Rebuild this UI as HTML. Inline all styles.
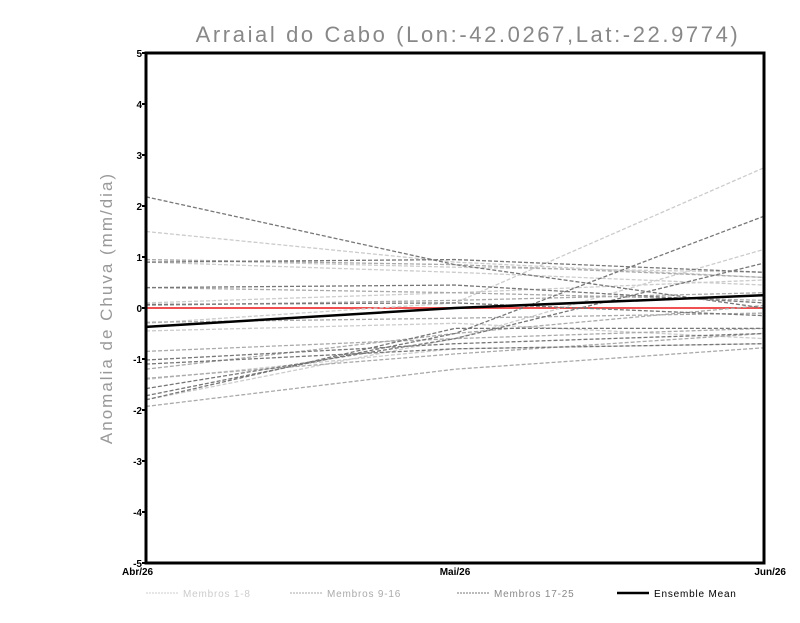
<!DOCTYPE html>
<html><head><meta charset="utf-8"><style>
body{margin:0;background:#fff;}
svg{font-family:"Liberation Sans",sans-serif;}
</style></head><body>
<svg id="chart" width="800" height="618">
<text x="468" y="42" text-anchor="middle" font-size="22" letter-spacing="2.6" fill="#888">Arraial do Cabo (Lon:-42.0267,Lat:-22.9774)</text>
<text transform="translate(112,308) rotate(-90)" text-anchor="middle" font-size="17" letter-spacing="2" fill="#999">Anomalia de Chuva (mm/dia)</text>
<g id="grid"></g>
<g id="series"></g>
<rect x="146" y="53" width="618" height="510" fill="none" stroke="#000" stroke-width="3"/>
<g id="ticks"></g>
<g id="legend" font-size="10" letter-spacing="0.8">
<line x1="146" y1="593" x2="178" y2="593" stroke="#ccc" stroke-dasharray="2,1"/>
<text x="183" y="597" fill="#ccc">Membros 1-8</text>
<line x1="290" y1="593" x2="322" y2="593" stroke="#aaa" stroke-dasharray="2,1"/>
<text x="327" y="597" fill="#aaa">Membros 9-16</text>
<line x1="457" y1="593" x2="489" y2="593" stroke="#777" stroke-dasharray="2,1"/>
<text x="494" y="597" fill="#888">Membros 17-25</text>
<line x1="617" y1="593" x2="649" y2="593" stroke="#000" stroke-width="2.5"/>
<text x="654" y="597" fill="#000">Ensemble Mean</text>
</g>
</svg>
<script>
const categories=["Abr/26","Mai/26","Jun/26"];
const yTicks=[-5,-4,-3,-2,-1,0,1,2,3,4,5];
const m1_8=[[1.5,0.9,0.6],[-0.3,0.1,2.75],[0.95,0.8,0.7],[-1.8,-0.6,1.15],[-0.45,-0.3,-0.6],[0.9,0.7,0.45],[-1.4,-0.8,-0.7],[0.1,0.3,0.55]];
const m9_16=[[0.95,0.85,0.6],[-0.85,-0.6,-0.4],[-1.93,-1.2,-0.78],[0.4,0.3,0.15],[-1.2,-0.5,0.05],[-0.28,-0.2,-0.1],[-1.38,-0.9,-0.5],[0.05,0.15,0.3]];
const m17_25=[[2.18,0.85,0.0],[-1.72,-0.5,1.8],[0.4,0.45,0.1],[-1.02,-0.7,-0.5],[-1.58,-0.6,0.88],[-1.1,-0.8,-0.7],[0.07,0.1,-0.15],[0.9,0.95,0.7],[-1.8,-0.4,-0.4]];
const meanVals=[-0.37,0.0,0.25];
const X0=146,X1=764,Y0=563,Y1=53;
const xs=i=>X0+(X1-X0)*i/(categories.length-1);
const ys=v=>Y0+(v+5)*(Y1-Y0)/10;
const NS="http://www.w3.org/2000/svg";
const S=document.getElementById('series'),T=document.getElementById('ticks');
function mk(tag,attrs,parent){const e=document.createElementNS(NS,tag);for(const k in attrs)e.setAttribute(k,attrs[k]);parent.appendChild(e);return e;}
function pts(vals){return vals.map((v,i)=>xs(i)+','+ys(v)).join(' ');}
const zl=mk('line',{x1:X0,x2:X1,y1:ys(0),y2:ys(0),stroke:'#f05050','stroke-width':2},S);


[[m1_8,'#ccc','member-1-8'],[m9_16,'#aaa','member-9-16'],[m17_25,'#777','member-17-25']].forEach(([grp,col,nm])=>{
 grp.forEach((vals,j)=>{
  const p=mk('polyline',{points:pts(vals),fill:'none',stroke:col,'stroke-width':1.3,'stroke-dasharray':'4,2'},S);
  
  
 });
});
const ml=mk('polyline',{points:pts(meanVals),fill:'none',stroke:'#000','stroke-width':2.5},S);


yTicks.forEach(v=>{
 const l=mk('line',{x1:X0-4,x2:X0,y1:ys(v),y2:ys(v),stroke:'#000','stroke-width':2},T);
 
 
 const t=mk('text',{x:X0-4,y:ys(v)+4,'text-anchor':'end','font-size':10,'font-weight':'bold'},T);
 t.textContent=v;
 
 
});
categories.forEach((c,i)=>{
 const last=i==categories.length-1;
 const t=mk('text',{x:i==0?X0-24:(last?X1+22:xs(i)),y:Y0+12,'text-anchor':i==0?'start':(last?'end':'middle'),'font-size':10,'font-weight':'bold'},T);
 t.textContent=c;
 
 
});
</script>
</body></html>
